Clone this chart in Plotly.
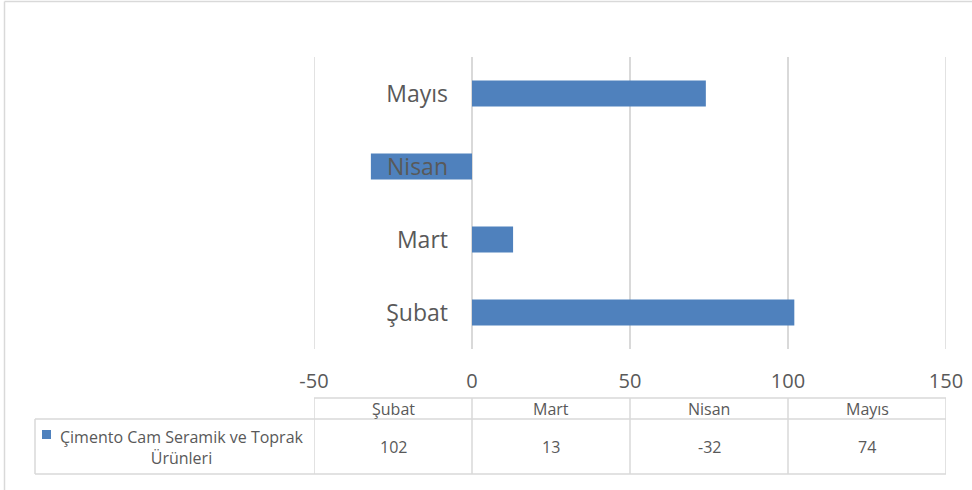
import plotly.graph_objects as go

# ---- data ----
categories = ["Şubat", "Mart", "Nisan", "Mayıs"]
values = [102, 13, -32, 74]
series_name = "Çimento Cam Seramik ve Toprak<br>Ürünleri"
x_tickvals = [-50, 0, 50, 100, 150]
x_ticktext = [str(v) for v in x_tickvals]

BAR = "#4F81BD"
GRID = "#D9D9D9"
TXT = "#595959"
FONT = "Open Sans"

W, H = 972, 490
ML, MR, MT, MB = 314, 26, 57, 141
PW, PH = W - ML - MR, H - MT - MB

def py(ypx):
    return (H - MB - ypx) / PH

def px(xpx):
    return (xpx - ML) / PW

fig = go.Figure()
fig.add_trace(go.Bar(
    y=categories, x=values, orientation="h",
    marker=dict(color=BAR, line=dict(width=0)),
    name=series_name.replace("<br>", " "),
    showlegend=False,
))

xmin, xmax = x_tickvals[0], x_tickvals[-1]
zero_pos = (0 - xmin) / (xmax - xmin)

fig.update_layout(
    width=W, height=H,
    margin=dict(l=ML, r=MR, t=MT, b=MB, autoexpand=False),
    paper_bgcolor="white", plot_bgcolor="white",
    bargap=0.645,
    font=dict(family=FONT, color=TXT),
    xaxis=dict(
        range=[xmin, xmax], tickvals=x_tickvals, ticktext=x_ticktext,
        showgrid=True, gridcolor=GRID, gridwidth=1.5,
        zeroline=True, zerolinecolor=GRID, zerolinewidth=1.5,
        showline=False, ticks="", ticklabelstandoff=18, automargin=False,
        tickfont=dict(size=20, color=TXT, family=FONT),
    ),
    yaxis=dict(
        categoryorder="array", categoryarray=categories,
        range=[-0.5, len(categories) - 0.5],
        anchor="free", position=zero_pos,
        showgrid=False, zeroline=False, showline=False, automargin=False,
        ticks="", ticklabelstandoff=24,
        tickfont=dict(size=23, color=TXT, family=FONT),
    ),
)

shapes = []
line = dict(color=GRID, width=1.5)
# gridlines at the range edges (plotly omits them)
for tv in (xmin, xmax):
    shapes.append(dict(type="line", xref="x", yref="paper", layer="below",
                       x0=tv, x1=tv, y0=0, y1=1, line=line))
# outer chart border (top and left visible)
shapes.append(dict(type="line", xref="paper", yref="paper",
                   x0=px(4.5), x1=px(1000), y0=py(1.5), y1=py(1.5), line=line))
shapes.append(dict(type="line", xref="paper", yref="paper",
                   x0=px(4.5), x1=px(4.5), y0=py(1.5), y1=py(520), line=line))

# data table
y_head_top, y_row_top, y_row_bot = py(398), py(419), py(474)
x_leg_left = px(35)
for tv in x_tickvals:
    shapes.append(dict(type="line", xref="x", yref="paper",
                       x0=tv, x1=tv, y0=y_head_top, y1=y_row_bot, line=line))
shapes.append(dict(type="line", xref="paper", yref="paper",
                   x0=x_leg_left, x1=x_leg_left, y0=y_row_top, y1=y_row_bot, line=line))
shapes.append(dict(type="line", xref="paper", yref="paper",
                   x0=0, x1=1, y0=y_head_top, y1=y_head_top, line=line))
for yy in (y_row_top, y_row_bot):
    shapes.append(dict(type="line", xref="paper", yref="paper",
                       x0=x_leg_left, x1=1, y0=yy, y1=yy, line=line))
# legend key square
shapes.append(dict(type="rect", xref="paper", yref="paper",
                   x0=px(42), x1=px(51), y0=py(430), y1=py(439),
                   fillcolor=BAR, line=dict(width=0)))

annotations = []
tf = dict(size=16, color=TXT, family=FONT)
centers = [(x_tickvals[i] + x_tickvals[i + 1]) / 2 for i in range(len(categories))]
for c, cat, v in zip(centers, categories, values):
    annotations.append(dict(x=c, xref="x", y=py(408.5), yref="paper",
                            xanchor="center", yanchor="middle",
                            text=cat, showarrow=False, font=tf))
    annotations.append(dict(x=c, xref="x", y=py(447), yref="paper",
                            xanchor="center", yanchor="middle",
                            text=str(v), showarrow=False, font=tf))
annotations.append(dict(x=px(182), xref="paper", y=py(447), yref="paper",
                        xanchor="center", yanchor="middle",
                        text=series_name, showarrow=False, align="center",
                        font=tf))

fig.update_layout(shapes=shapes, annotations=annotations)
fig.write_html("out.html",
               config={"displayModeBar": False},
               post_script="document.body.style.margin='0';document.body.style.overflow='hidden';")
